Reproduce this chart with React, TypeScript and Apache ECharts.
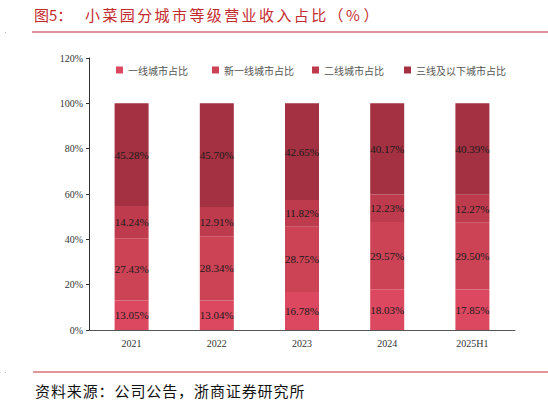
import { useEffect, useRef } from 'react';
import * as echarts from 'echarts';

const years = ['2021', '2022', '2023', '2024', '2025H1'];
const seriesNames = ['一线城市占比', '新一线城市占比', '二线城市占比', '三线及以下城市占比'];
const tier1 = [13.05, 13.04, 16.78, 18.03, 17.85];
const newTier1 = [27.43, 28.34, 28.75, 29.57, 29.5];
const tier2 = [14.24, 12.91, 11.82, 12.23, 12.27];
const tier3 = [45.28, 45.7, 42.65, 40.17, 40.39];
const colors = ['#DB4860', '#CC4356', '#BE3A4D', '#A33141'];
const legendLefts = [111, 207, 307, 399];

const titleLead = '图5：';
const titleMain = '小菜园分城市等级营业收入占比（%）';
const sourceText = '资料来源：公司公告，浙商证券研究所';

const SERIF = '"Liberation Serif", "Times New Roman", serif';
const CJK = '"Noto Sans CJK SC", sans-serif';

// spread the characters out like the original's wide Song typesetting
function spaced(text: string, x0: number, step: number, y: number, style: any) {
  return Array.from(text).map((ch, i) => ({
    type: 'text',
    x: x0 + i * step,
    y,
    style: { text: ch, verticalAlign: 'middle', ...style },
  }));
}

export default function App() {
  const chartRef = useRef<HTMLDivElement>(null);

  useEffect(() => {
    if (!chartRef.current) return;
    const chart = echarts.init(chartRef.current, null, { renderer: 'svg' });
    const values = [tier1, newTier1, tier2, tier3];
    const titleStyle = { fill: '#C42B30', fontSize: 15, fontFamily: CJK };
    const sourceStyle = { fill: '#111', fontSize: 15, fontFamily: CJK };

    chart.setOption({
      animation: false,
      backgroundColor: '#fff',
      color: colors,
      grid: { left: 89, right: 33, top: 58, bottom: 73 },
      legend: seriesNames.map((name, i) => ({
        top: 60,
        left: legendLefts[i],
        itemWidth: 7,
        itemHeight: 7,
        icon: 'rect',
        textStyle: { fontSize: 10, color: '#555', fontFamily: CJK },
        data: [name],
      })),
      xAxis: {
        type: 'category',
        data: years,
        axisLine: { lineStyle: { color: '#555', width: 1 } },
        axisTick: { show: false },
        axisLabel: { fontSize: 10, color: '#333', fontFamily: SERIF, margin: 8 },
      },
      yAxis: {
        type: 'value',
        min: 0,
        max: 120,
        interval: 20,
        axisLine: { show: true, lineStyle: { color: '#333', width: 1 } },
        axisTick: { show: true, length: 3, lineStyle: { color: '#333' } },
        splitLine: { show: false },
        axisLabel: { formatter: '{value}%', fontSize: 10, color: '#333', fontFamily: SERIF, margin: 6 },
      },
      series: seriesNames.map((name, i) => ({
        name,
        type: 'bar',
        stack: 'total',
        barWidth: 34,
        data: values[i],
        itemStyle: { color: colors[i] },
        label: {
          show: true,
          position: 'inside',
          color: '#1a1a1a',
          fontSize: 11,
          fontFamily: SERIF,
          formatter: (p: any) => `${Number(p.value).toFixed(2)}%`,
        },
      })),
      graphic: [
        { type: 'text', x: 34, y: 14, style: { text: titleLead, verticalAlign: 'middle', ...titleStyle } },
        ...spaced(titleMain, 85, 17.4, 14, titleStyle),
        { type: 'line', shape: { x1: 32, y1: 32, x2: 548, y2: 32 }, style: { stroke: '#C42B30', lineWidth: 1 } },
        { type: 'rect', shape: { x: 5, y: 32, width: 1, height: 1 }, style: { fill: '#E8A0A0' } },
        { type: 'line', shape: { x1: 33, y1: 372, x2: 548, y2: 372 }, style: { stroke: '#C42B30', lineWidth: 1 } },
        { type: 'rect', shape: { x: 5, y: 372, width: 1, height: 1 }, style: { fill: '#E8A0A0' } },
        ...spaced(sourceText, 35, 15.9, 390, sourceStyle),
      ],
    });

    return () => chart.dispose();
  }, []);

  return (
    <div
      ref={chartRef}
      style={{ position: 'fixed', left: 0, top: 0, width: 548, height: 403 }}
    />
  );
}
